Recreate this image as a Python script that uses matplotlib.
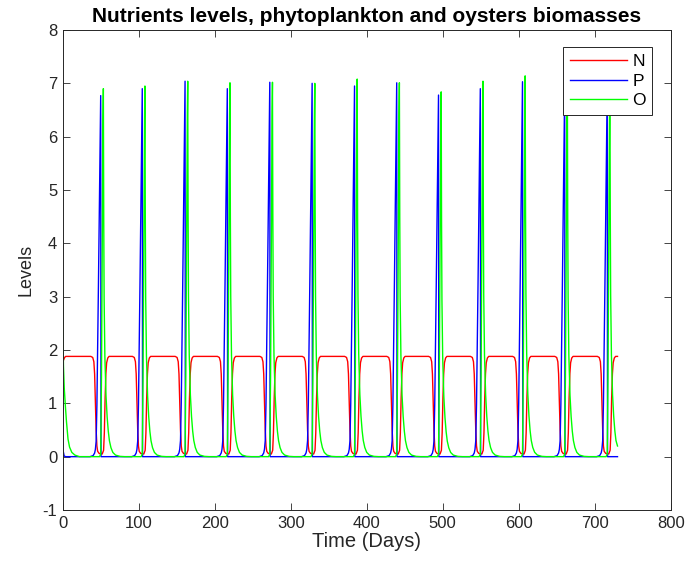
import numpy as np
import matplotlib
matplotlib.use("Agg")
import matplotlib.pyplot as plt

plt.rcParams['font.family'] = ['Liberation Sans', 'DejaVu Sans']
plt.rcParams['axes.unicode_minus'] = False

# ---- data ----
# blue (P) peak day of every bloom, and peak heights
peak_days = [50.0, 104.7, 161.0, 216.6, 272.5, 328.2, 384.0, 439.5, 494.5, 549.5, 605.0, 660.5, 716.5]
p_peaks = [6.77, 6.90, 7.04, 6.90, 7.02, 7.00, 6.95, 7.01, 6.78, 6.90, 7.03, 6.90, 6.95]
o_peaks = [6.90, 6.95, 7.04, 7.01, 7.02, 7.00, 7.08, 7.01, 6.84, 7.04, 7.14, 7.00, 7.05]

# shape of one bloom (offset in days from P peak, level)
n_offsets = [-13, -10.5, -9, -8, -7, -6, -5, -4, -2, 2, 3.8, 4.8, 5.8, 6.8, 7.8, 9.3, 11]
n_levels = [1.88, 1.86, 1.78, 1.55, 1.05, 0.5, 0.2, 0.1, 0.06, 0.05, 0.12, 0.45, 1.1, 1.55, 1.76, 1.85, 1.88]
p_offsets = [-14, -10, -8, -7, -6, -5, -4, -3, -2, -1, 0, 0.4]
p_levels = [0.0, 0.02, 0.07, 0.14, 0.3, 1.0, 2.1, 3.3, 4.5, 5.8, 7.0, 0.0]
o_offsets = [-1.5, 0, 1, 2, 3, 3.5, 4.0, 4.5, 5.5, 7.0, 8.5, 10.0, 11.5, 13.5, 16.0, 19.5, 25.5, 31.5]
o_levels = [0.0, 0.05, 1.5, 4.0, 6.4, 7.0, 4.5, 3.0, 1.9, 1.15, 0.75, 0.48, 0.3, 0.17, 0.08, 0.03, 0.005, 0.0]

# start of the run (day, level)
n_start_days = [0, 0.8, 2.5, 4]
n_start_levels = [3.04, 1.80, 1.86, 1.88]
p_start_days = [0, 0.7, 2, 4]
p_start_levels = [1.0, 0.1, 0.01, 0.0]
o_start_days = [0, 0.5, 1, 2, 3.5, 5, 7, 9, 12, 16, 22]
o_start_levels = [3.1, 2.2, 1.7, 1.3, 0.95, 0.65, 0.33, 0.18, 0.08, 0.03, 0.0]

end_day = 730
n_end, p_end, o_end = 1.88, 0.0, 0.2

time_ticks = list(range(0, 801, 100))
level_ticks = list(range(-1, 9))


def build(start_d, start_v, offsets, levels, peaks, ref=7.0, scale=True):
    t = list(start_d)
    v = list(start_v)
    for tp, h in zip(peak_days, peaks):
        f = h / ref if scale else 1.0
        for o, lv in zip(offsets, levels):
            t.append(tp + o)
            v.append(lv * f)
    return np.array(t), np.array(v)


def finish(t, v, end_v):
    keep = t < end_day
    t = np.append(t[keep], end_day)
    v = np.append(v[keep], end_v)
    return t, v


tN, vN = build(n_start_days, n_start_levels, n_offsets, n_levels, p_peaks, scale=False)
tP, vP = build(p_start_days, p_start_levels, p_offsets, p_levels, p_peaks)
tO, vO = build(o_start_days, o_start_levels, o_offsets, o_levels, o_peaks)
tN, vN = finish(tN, vN, n_end)
tP, vP = finish(tP, vP, p_end)
tO, vO = finish(tO, vO, o_end)

fig = plt.figure(figsize=(6.86, 5.72), dpi=100)
ax = fig.add_axes([62.7 / 686, (572 - 510) / 572, 608 / 686, 480 / 572])

ax.plot(tN, vN, color='#FF0000', lw=1.0, label='N')
ax.plot(tP, vP, color='#0000FF', lw=1.0, label='P')
ax.plot(tO, vO, color='#00FF00', lw=1.0, label='O')

ax.set_xlim(0, 800)
ax.set_ylim(-1, 8)
ax.set_xticks(time_ticks)
ax.set_yticks(level_ticks)
ax.tick_params(direction='in', length=5, width=0.6, top=True, right=True,
               labelsize=12, colors='#262626', pad=4)
for s in ax.spines.values():
    s.set_color('#262626')
    s.set_linewidth(0.7)

ax.set_title('Nutrients levels, phytoplankton and oysters biomasses',
             fontsize=15, fontweight='bold', pad=6)
ax.set_xlabel('Time (Days)', fontsize=14.5, color='#262626', labelpad=1)
ax.set_ylabel('Levels', fontsize=13, color='#262626', labelpad=6)

leg = ax.legend(loc='upper right', bbox_to_anchor=(0.9697, 0.964), borderaxespad=0,
                fontsize=12.5, handlelength=3.3, handletextpad=0.3, labelspacing=0.26,
                borderpad=0.38, fancybox=False, framealpha=1)
leg.get_frame().set_edgecolor('#262626')
leg.get_frame().set_linewidth(0.7)

fig.savefig('out.png', dpi=100)
